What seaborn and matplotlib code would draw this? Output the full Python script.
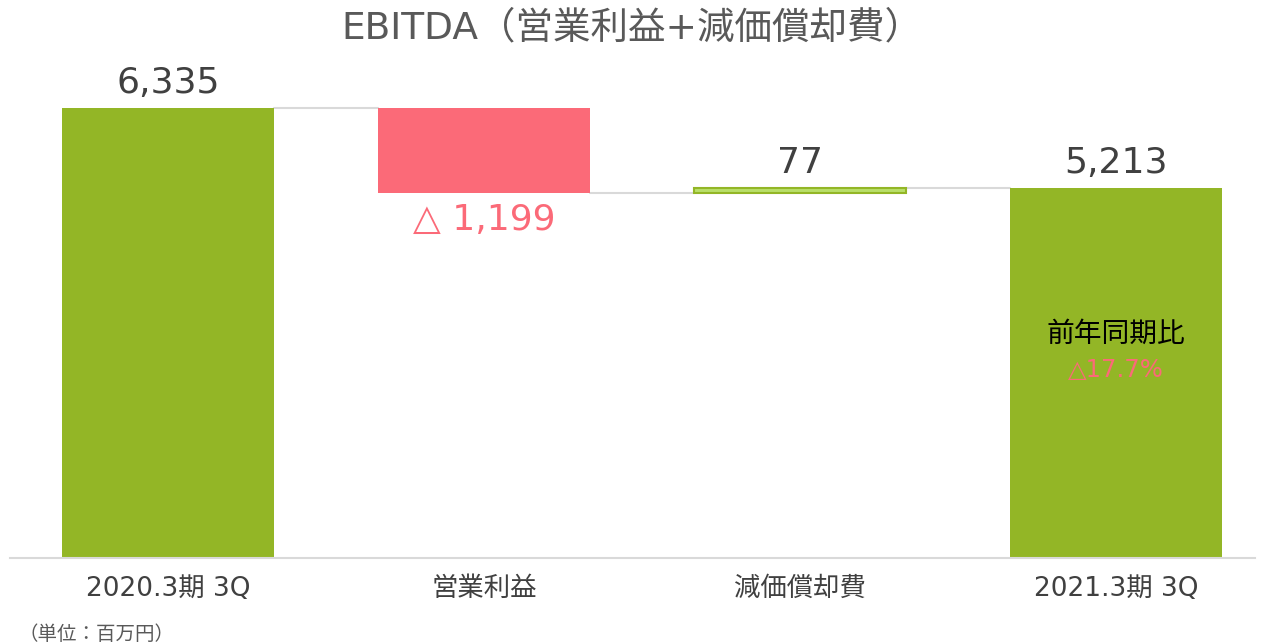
import matplotlib
matplotlib.use("Agg")
import matplotlib.pyplot as plt
import seaborn as sns
import pandas as pd

# data
categories = ["2020.3期 3Q", "営業利益", "減価償却費", "2021.3期 3Q"]
changes = [6335, -1199, 77, 5213]
labels = ["6,335", "△ 1,199", "77", "5,213"]
kinds = ["total", "down", "up", "total"]

green = "#93b626"
red = "#fb6a78"
light_green = "#b9df6a"
text_col = "#404040"

# waterfall bottoms / tops
bottoms = []
tops = []
level = 0
for c, k in zip(changes, kinds):
    if k == "total":
        bottoms.append(0)
        tops.append(c)
        level = c
    else:
        new = level + c
        bottoms.append(min(level, new))
        tops.append(max(level, new))
        level = new

df = pd.DataFrame({"cat": categories, "top": tops, "bottom": bottoms})

sns.set_style("white")
plt.rcParams["font.family"] = ["DejaVu Sans", "Noto Sans CJK JP"]

fig = plt.figure(figsize=(12.64, 6.44), dpi=100)
ax = fig.add_axes([10 / 1264, 86 / 644, 1245 / 1264, 497 / 644])

colors = [green, red, light_green, green]
sns.barplot(data=df, x="cat", y="top", hue="cat", palette=colors, legend=False,
            width=0.668, ax=ax, saturation=1)

bar_w = 0.668
for i, p in enumerate(ax.patches):
    p.set_y(bottoms[i])
    p.set_height(tops[i] - bottoms[i])
    if kinds[i] == "up":
        p.set_edgecolor(green)
        p.set_linewidth(1.5)
    else:
        p.set_edgecolor("none")

# connector lines
levels = []
level = 0
for c, k in zip(changes, kinds):
    level = c if k == "total" else level + c
    levels.append(level)
for i in range(len(categories) - 1):
    ax.plot([i + bar_w / 2, i + 1 - bar_w / 2], [levels[i], levels[i]],
            color="#d9d9d9", lw=1.5, zorder=0)

# value labels
for i, k in enumerate(kinds):
    if k == "down":
        ax.text(i, bottoms[i] - 130, labels[i], ha="center", va="top",
                fontsize=26, color=red)
    else:
        ax.text(i, tops[i] + 110, labels[i], ha="center", va="bottom",
                fontsize=26, color=text_col)

ax.text(3, 3153, "前年同期比", ha="center", va="center", fontsize=20, color="black")
ax.text(3, 2646, "△17.7%", ha="center", va="center", fontsize=17.5, color=red)

ax.set_xlim(-0.5, 3.44)
ax.set_ylim(0, 7000)
ax.set_xlabel("")
ax.set_ylabel("")
ax.set_yticks([])
ax.tick_params(axis="x", length=0, pad=13, labelsize=19, labelcolor=text_col)
for s in ["top", "right", "left"]:
    ax.spines[s].set_visible(False)
ax.spines["bottom"].set_color("#d9d9d9")
ax.spines["bottom"].set_linewidth(1.5)

fig.text(0.5, 1 - 28 / 644, "EBITDA（営業利益+減価償却費）", ha="center", va="center",
         fontsize=27, color="#595959")
fig.text(18 / 1264, 1 - 634 / 644, "（単位：百万円）", ha="left", va="center",
         fontsize=14, color="#595959")

fig.savefig("out.png", dpi=100)
